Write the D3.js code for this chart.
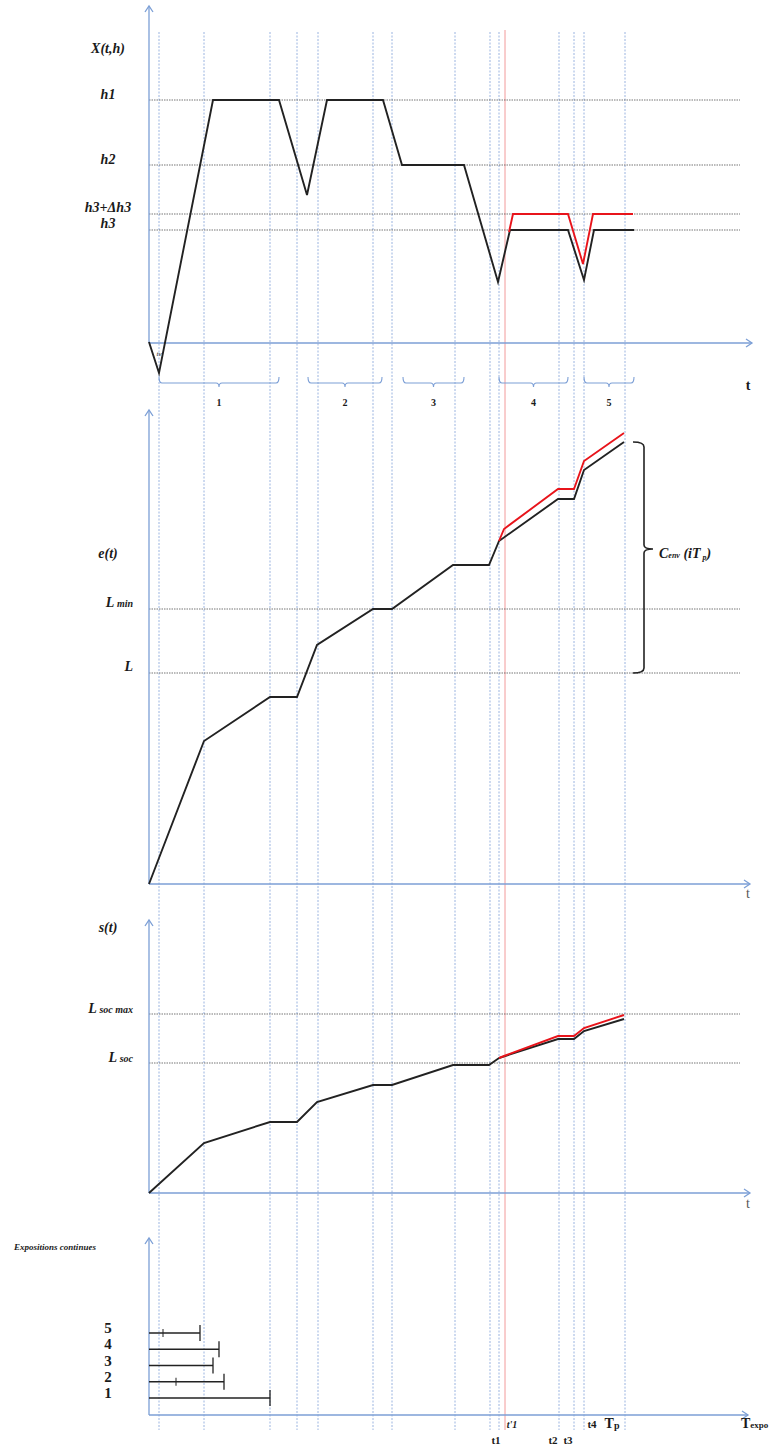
<!DOCTYPE html>
<html><head><meta charset="utf-8">
<script src="https://cdn.jsdelivr.net/npm/d3@7"></script>
<style>body{margin:0;background:#fff}svg{display:block}</style>
</head><body>
<script>
// ---------- DATA (time units along t, arbitrary value units per panel) ----------
const guideTimes = [10,55,121,148,169,224,243,306,341,350,410,425,435,476];
const redGuideTime = 356;

// X(t,h) panel
const xhLevels = [243,178,129,113];               // h1, h2, h3+Δh3, h3
const xhLabels = ["h1","h2","h3+Δh3","h3"];
const xhBlack = [[0,1],[10,-30],[64,243],[130,243],[158,148],[178,243],[234,243],[253,178],[315,178],[349,61],[361,113],[419,113],[435,63],[445,113],[485,113]];
const xhRed   = [[360,111],[364,129],[419,129],[434,79],[444,129],[484,129]];

// segment braces (start, end) and labels
const braceStart = [10,159,254,350,435];
const braceEnd   = [130,233,315,419,485];
const braceLabels = ["1","2","3","4","5"];

// e(t) panel
const eLevels = [275,211];                        // L min, L
const eBlack = [[0,0],[55,143],[121,187],[148,187],[168,239],[224,275],[243,275],[304,319],[340,319],[350,343],[409,385],[425,385],[435,414],[475,442]];
const eRed   = [[350,343],[355,355],[409,395],[425,395],[435,423],[475,451]];

// s(t) panel
const sLevels = [179,130];                        // L soc max, L soc
const sBlack = [[0,0],[55,50],[121,71],[148,71],[168,91],[224,108],[243,108],[304,128],[340,128],[350,135],[409,154],[425,154],[435,162],[475,174]];
const sRed   = [[350,135],[355,137],[409,157],[425,157],[435,165],[475,178]];

// continuous exposures
const expoCats = ["1","2","3","4","5"];
const expoEnd  = [121,75,64,70,51];
const expoMid  = [null,27,null,null,14];

// ---------- LAYOUT ----------
const W = 772, H = 1445;
const svg = d3.select("body").append("svg").attr("width",W).attr("height",H);

const x = d3.scaleLinear().domain([0,600]).range([149,749]);
const yX = d3.scaleLinear().domain([0,243]).range([343,100]);
const yE = d3.scaleLinear().domain([0,275]).range([884,609]);
const yS = d3.scaleLinear().domain([0,179]).range([1193,1014]);
const yExpo = d3.scalePoint().domain(expoCats).range([1398,1333]);

const BLUE = "#7c9fd6", GUIDE = "#9bb4e0", DOT = "#555";
const serif = "'Liberation Serif','DejaVu Serif',serif";

// vertical guides
svg.append("g").selectAll("line").data(guideTimes).join("line")
  .attr("x1",d=>x(d)).attr("x2",d=>x(d)).attr("y1",32).attr("y2",1430)
  .attr("stroke",GUIDE).attr("stroke-width",1).attr("stroke-dasharray","2,1.5");
svg.append("line").attr("x1",x(redGuideTime)).attr("x2",x(redGuideTime)).attr("y1",30).attr("y2",1430)
  .attr("stroke","#f29a9a").attr("stroke-width",1);

// axes helper
function arrowAxis(x1,y1,x2,y2,dir){
  svg.append("line").attr("x1",x1).attr("y1",y1).attr("x2",x2).attr("y2",y2)
    .attr("stroke",BLUE).attr("stroke-width",1.3);
  let p;
  if(dir==="up") p=`M${x2-4},${y2+6} L${x2},${y2} L${x2+4},${y2+6}`;
  else p=`M${x2-6},${y2-4} L${x2},${y2} L${x2-6},${y2+4}`;
  svg.append("path").attr("d",p).attr("fill","none").attr("stroke",BLUE).attr("stroke-width",1.3);
}
// dotted level lines
function levels(vals, yS_){
  svg.append("g").selectAll("line").data(vals).join("line")
    .attr("x1",x(0)).attr("x2",x(591)).attr("y1",d=>yS_(d)).attr("y2",d=>yS_(d))
    .attr("stroke",DOT).attr("stroke-width",1).attr("stroke-dasharray","1.5,1").attr("opacity",0.8);
}
function curve(data, ys, color){
  const ln = d3.line().x(d=>x(d[0])).y(d=>ys(d[1]));
  svg.append("path").datum(data).attr("d",ln).attr("fill","none")
    .attr("stroke",color).attr("stroke-width",1.9).attr("stroke-linejoin","miter");
}
function label(txt, px, py, opts={}){
  return svg.append("text").attr("x",px).attr("y",py).text(txt)
    .attr("font-family",serif).attr("font-size",opts.size||14)
    .attr("font-weight",opts.weight||"bold").attr("font-style",opts.style||"italic")
    .attr("text-anchor",opts.anchor||"middle").attr("fill",opts.fill||"#1a1a1a");
}

// ---------- PANEL 1: X(t,h) ----------
levels(xhLevels, yX);
arrowAxis(149,343,149,6,"up");
arrowAxis(149,343,752,343,"right");
curve(xhBlack, yX, "#222");
curve(xhRed, yX, "#e8141b");
label("X(t,h)",108,53);
const xhLabY = [99,164,212,228];
xhLabels.forEach((t,i)=>label(t,108,xhLabY[i]));
label("tv",159,356,{size:7,weight:"normal"});
label("t",748,390,{size:14,style:"normal"});

// braces
braceStart.forEach((s,i)=>{
  const a=x(s), b=x(braceEnd[i]), m=(a+b)/2, yb=383;
  const p=`M${a},${yb-6} Q${a},${yb} ${a+3},${yb} L${m-3},${yb} Q${m},${yb} ${m},${yb+4} Q${m},${yb} ${m+3},${yb} L${b-3},${yb} Q${b},${yb} ${b},${yb-6}`;
  svg.append("path").attr("d",p).attr("fill","none").attr("stroke",BLUE).attr("stroke-width",1.1);
  label(braceLabels[i],m,406,{size:10,style:"normal"});
});

// ---------- PANEL 2: e(t) ----------
levels(eLevels, yE);
arrowAxis(149,884,149,410,"up");
arrowAxis(149,884,750,884,"right");
curve(eBlack, yE, "#222");
curve(eRed, yE, "#e8141b");
label("e(t)",108,558);
{ const t=label("",133,607,{anchor:"end"}); t.append("tspan").text("L"); t.append("tspan").attr("font-size",10).text(" min"); }
label("L",133,671,{anchor:"end"});
label("t",748,898,{size:14,style:"normal",weight:"normal",fill:"#555"});
// C_env brace
{
  const top=yE(442), bot=yE(211), mid=549, bx=644;
  const p=`M${bx-11},${top} Q${bx},${top} ${bx},${top+5} L${bx},${mid-4} Q${bx},${mid} ${bx+9},${mid} Q${bx},${mid} ${bx},${mid+4} L${bx},${bot-5} Q${bx},${bot} ${bx-11},${bot}`;
  svg.append("path").attr("d",p).attr("fill","none").attr("stroke","#222").attr("stroke-width",1.6);
  const t=label("",659,558,{anchor:"start"});
  t.append("tspan").text("C");
  t.append("tspan").attr("font-size",8).text("env");
  t.append("tspan").text(" (iT");
  t.append("tspan").attr("font-size",8).attr("dy",2).text(" p");
  t.append("tspan").attr("dy",-2).text(")");
}

// ---------- PANEL 3: s(t) ----------
levels(sLevels, yS);
arrowAxis(149,1193,149,920,"up");
arrowAxis(149,1193,750,1193,"right");
curve(sBlack, yS, "#222");
curve(sRed, yS, "#e8141b");
label("s(t)",108,932);
{ const t=label("",133,1013,{anchor:"end"}); t.append("tspan").text("L"); t.append("tspan").attr("font-size",10).text(" soc max"); }
{ const t=label("",133,1062,{anchor:"end"}); t.append("tspan").text("L"); t.append("tspan").attr("font-size",10).text(" soc"); }
label("t",748,1208,{size:14,style:"normal",weight:"normal",fill:"#555"});

// ---------- PANEL 4: Expositions continues ----------
arrowAxis(149,1415,149,1238,"up");
arrowAxis(149,1415,748,1415,"right");
label("Expositions continues",55,1250,{size:9,anchor:"middle"});
const eg = svg.append("g");
expoCats.forEach((c,i)=>{
  const yy=yExpo(c);
  eg.append("line").attr("x1",x(0)).attr("x2",x(expoEnd[i])).attr("y1",yy).attr("y2",yy)
    .attr("stroke","#222").attr("stroke-width",1.5);
  eg.append("line").attr("x1",x(expoEnd[i])).attr("x2",x(expoEnd[i])).attr("y1",yy-8).attr("y2",yy+8)
    .attr("stroke","#222").attr("stroke-width",1.3);
  if(expoMid[i]!=null) eg.append("line").attr("x1",x(expoMid[i])).attr("x2",x(expoMid[i])).attr("y1",yy-4).attr("y2",yy+4)
    .attr("stroke","#222").attr("stroke-width",1);
  label(c,108,yy,{size:15,style:"normal"});
});

// bottom time labels
label("t1",496,1444,{size:11,style:"normal"});
label("t'1",512,1428,{size:10});
label("t2",553,1444,{size:11,style:"normal"});
label("t3",568,1444,{size:11,style:"normal"});
label("t4",592,1428,{size:11,style:"normal"});
{ const t=label("",612,1428,{anchor:"middle",style:"normal",size:14}); t.append("tspan").text("T"); t.append("tspan").attr("font-size",10).attr("dy",1).text("p"); }
{ const t=label("",741,1428,{anchor:"start",style:"normal",size:14}); t.append("tspan").text("T"); t.append("tspan").attr("font-size",9).text("expo"); }
</script>
</body></html>
